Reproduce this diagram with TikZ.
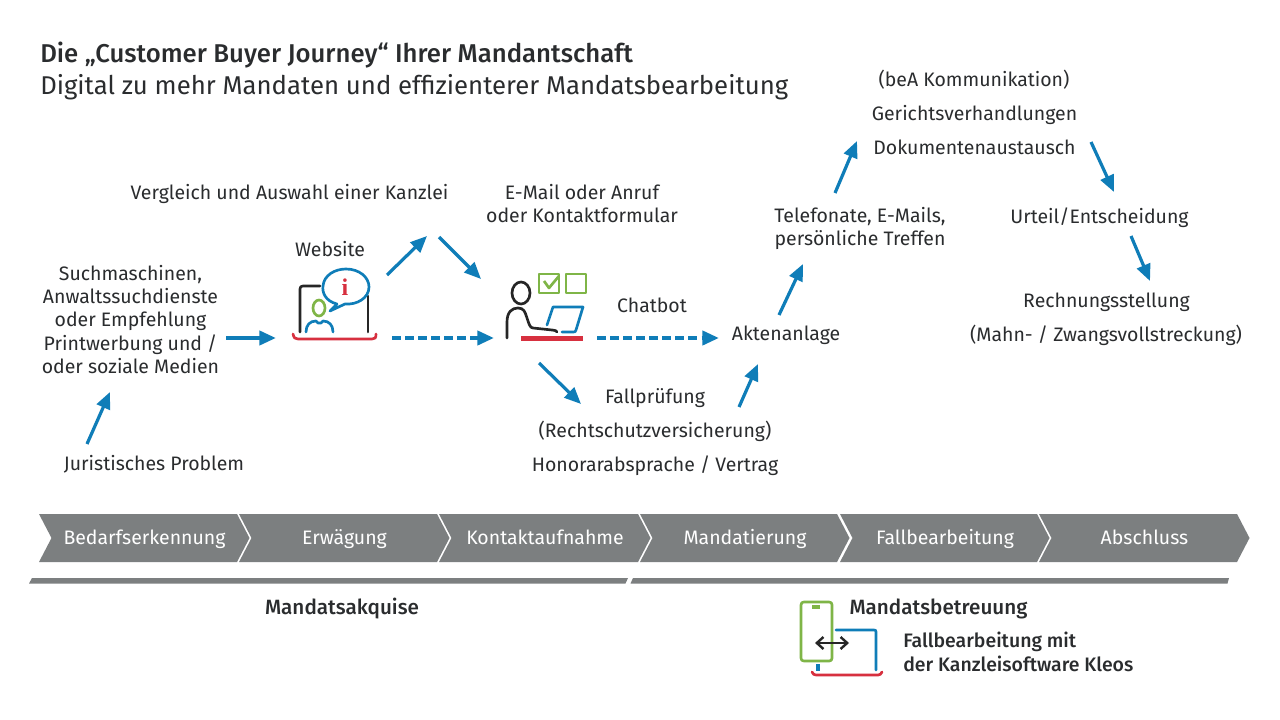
\documentclass[tikz,border=0pt]{standalone}
\usepackage{fontspec}
\setmainfont{Fira Sans}
\newfontfamily\medfont{Fira Sans Medium}
\usetikzlibrary{arrows.meta}
\definecolor{jblue}{HTML}{0F7DB8}
\definecolor{jgrey}{HTML}{7C7F80}
\definecolor{jred}{HTML}{D7303F}
\definecolor{jgreen}{HTML}{7FB547}
\definecolor{jtext}{HTML}{2A2C2E}
\tikzset{
  lbl/.style={text=jtext,font=\fontsize{14.6}{17.3}\selectfont,align=center,inner sep=0pt},
  medlbl/.style={lbl,font=\fontsize{15.5}{18}\selectfont\medfont},
  flow/.style={draw=jblue,line width=2.4pt,-{Triangle[length=12.5pt,width=10.5pt]}},
  hflow/.style={flow,line width=3pt},
  dashflow/.style={hflow,dash pattern=on 6.5pt off 3.3pt},
  chev/.style={fill=jgrey,draw=none},
  chevtxt/.style={text=white,font=\fontsize{14.6}{17}\selectfont,inner sep=0pt,anchor=base},
  bar/.style={fill=jgrey,draw=none},
  iconblack/.style={draw=black!85,line width=2pt,line cap=round,line join=round},
  iconblue/.style={draw=jblue,line width=2pt,line cap=round,line join=round},
  icongreen/.style={draw=jgreen,line width=2pt,line join=round},
  iconred/.style={draw=jred,line width=2pt,line cap=round},
}
\begin{document}
\begin{tikzpicture}[x=0.75pt,y=-0.75pt]
\useasboundingbox (0,0) rectangle (1280,720);
\fill[white] (0,0) rectangle (1280,720);
% titles
\node[anchor=base west,inner sep=0pt,text=jtext,font=\fontsize{19.3}{22}\selectfont\medfont] (title) at (40,63) {Die „Customer Buyer Journey“ Ihrer Mandantschaft};
\node[anchor=base west,inner sep=0pt,text=jtext,font=\fontsize{19.3}{22}\selectfont] (subtitle) at (40,95) {Digital zu mehr Mandaten und effizienterer Mandatsbearbeitung};
% labels
\node[lbl] (problem) at (154,464.5) {Juristisches Problem};
\node[lbl] (such) at (130.5,319.5) {Suchmaschinen,\\Anwaltssuchdienste\\oder Empfehlung\\Printwerbung und /\\oder soziale Medien};
\node[lbl] (website) at (330,249.5) {Website};
\node[lbl] (vergleich) at (289.5,193.5) {Vergleich und Auswahl einer Kanzlei};
\node[lbl] (email) at (582,203.5) {E-Mail oder Anruf\\oder Kontaktformular};
\node[lbl] (chatbot) at (652,305) {Chatbot};
\node[lbl] (akten) at (786,335.5) {Aktenanlage};
\node[lbl] (fall1) at (655,398.5) {Fallprüfung};
\node[lbl] (fall2) at (655,431) {(Rechtschutzversicherung)};
\node[lbl] (fall3) at (655,465.5) {Honorarabsprache / Vertrag};
\node[lbl] (tel) at (860,228.5) {Telefonate, E-Mails,\\persönliche Treffen};
\node[lbl] (bea) at (974,80) {(beA Kommunikation)};
\node[lbl] (ger) at (974.5,114.5) {Gerichtsverhandlungen};
\node[lbl] (dok) at (974.5,147) {Dokumentenaustausch};
\node[lbl] (urteil) at (1099.5,217.5) {Urteil/Entscheidung};
\node[lbl] (rech) at (1106.5,302.5) {Rechnungsstellung};
\node[lbl] (mahn) at (1106,335) {(Mahn- / Zwangsvollstreckung)};
% arrows
\foreach \n/\a/\b/\c/\d/\s in {
 a/87/444/110/392/flow, b/226/338/276/338/hflow, c/387/275/427/236/flow, d/439/237/481/279/flow,
 e/392/338/494/338/dashflow, f/539/363/581/404/flow, g/597/338/719/338/dashflow, h/739/407/758/364/flow,
 i/779/315/803/264/flow, j/835/193/857/141/flow, k/1091/142/1114/192/flow, l/1131/236/1150/281/flow}{
  \coordinate (\n0) at (\a,\b);
  \coordinate (\n1) at (\c,\d);
  \draw[\s] (\n0) -- (\n1);
}
% chevrons
\foreach \n/\x/\e/\t [count=\i] in {c1/39/237/Bedarfserkennung,c2/239/437/Erwägung,c3/439/638/Kontaktaufnahme,c4/640/837/Mandatierung,c5/840/1037/Fallbearbeitung,c6/1039/1237/Abschluss}{
  \fill[chev] (\x,514) -- (\e,514) -- (\e+12.5,538) -- (\e,562) -- (\x,562) -- (\x+12.5,538) -- cycle;
  \node[chevtxt] (\n) at ({(\x+\e)/2+6.5},544) {\t};
}
% bars
\fill[bar] (32,578) -- (628,578) -- (625.5,583.5) -- (29,583.5) -- cycle;
\fill[bar] (633,578) -- (1229,578) -- (1227.5,583.5) -- (630.5,583.5) -- cycle;
\node[medlbl] (akquise) at (342,609) {Mandatsakquise};
\node[medlbl] (betreuung) at (938.5,609) {Mandatsbetreuung};
\node[lbl,align=left,anchor=north west,font=\fontsize{14.6}{18}\selectfont\medfont] (kleos) at (903,631.5) {Fallbearbeitung mit\\der Kanzleisoftware Kleos};
% website icon
\draw[iconblack] (300,332) -- (300,289) .. controls (300,287) and (301,286) .. (303,286) -- (320,286);
\draw[iconblack] (368,296) -- (368,332);
\draw[iconred] (293,334) .. controls (294,338) and (295,339) .. (298,339) -- (372,339) .. controls (375,339) and (376,338) .. (376,334);
\draw[iconblue] (337,304) .. controls (325,301) and (322,292) .. (323,286) .. controls (324,275) and (335,269) .. (346,269) .. controls (359,269) and (369,277) .. (369,287) .. controls (369,298) and (357,305) .. (345,304) -- (330,311) -- (337,304);
\node[inner sep=0pt,text=jred,font=\fontsize{18}{18}\selectfont\bfseries\fontspec{Liberation Serif}] (info) at (345,287) {i};
\draw[icongreen] (319,308) ellipse [x radius=6,y radius=8];
\draw[iconblue] (306,332) .. controls (306,325) and (310,321) .. (316,321) -- (318,323) -- (321,323) -- (323,321) .. controls (329,321) and (333,325) .. (333,332);
% desk icon
\draw[iconblack] (521,293) ellipse [x radius=9,y radius=11];
\draw[iconblack] (507,338) -- (507,322) .. controls (507,312) and (512,308) .. (518,308) .. controls (524,308) and (525,312) .. (527,318) .. controls (529,324) and (530,328) .. (533,328) -- (552,330) .. controls (555,330) and (557,331) .. (557,332);
\draw[iconblue] (547,325) -- (553,307) -- (583,307) -- (576,330) .. controls (575.5,332) and (575,332) .. (573,332) -- (562,332);
\fill[jred] (521,336) rectangle (583,340.5);
\draw[icongreen] (539,274) rectangle (559,293);
\draw[icongreen] (566,274) rectangle (586,293);
\draw[icongreen] (544,281) -- (549,288) -- (559,276);
% device icon
\draw[icongreen] (804,602) -- (829,602) .. controls (831,602) and (832,603) .. (832,605) -- (832,658) .. controls (832,660) and (831,661) .. (829,661) -- (804,661) .. controls (802,661) and (801,660) .. (801,658) -- (801,605) .. controls (801,603) and (802,602) .. (804,602) -- cycle;
\draw[draw=jgreen,line width=2.4pt] (812,607) -- (820,607);
\draw[iconblue] (836,630) -- (874,630) .. controls (875.5,630) and (876,630.5) .. (876,632) -- (876,670);
\draw[draw=jblue,line width=2.4pt] (818,664) -- (818,671);
\draw[iconred] (812,672) .. controls (813,674) and (814,675) .. (816,675) -- (878,675) .. controls (880,675) and (881,674) .. (882,672);
\draw[draw=black!85,line width=1.8pt,{Straight Barb[length=5pt,width=9pt]}-{Straight Barb[length=5pt,width=9pt]}] (815,643) -- (849,643);
\end{tikzpicture}
\end{document}
